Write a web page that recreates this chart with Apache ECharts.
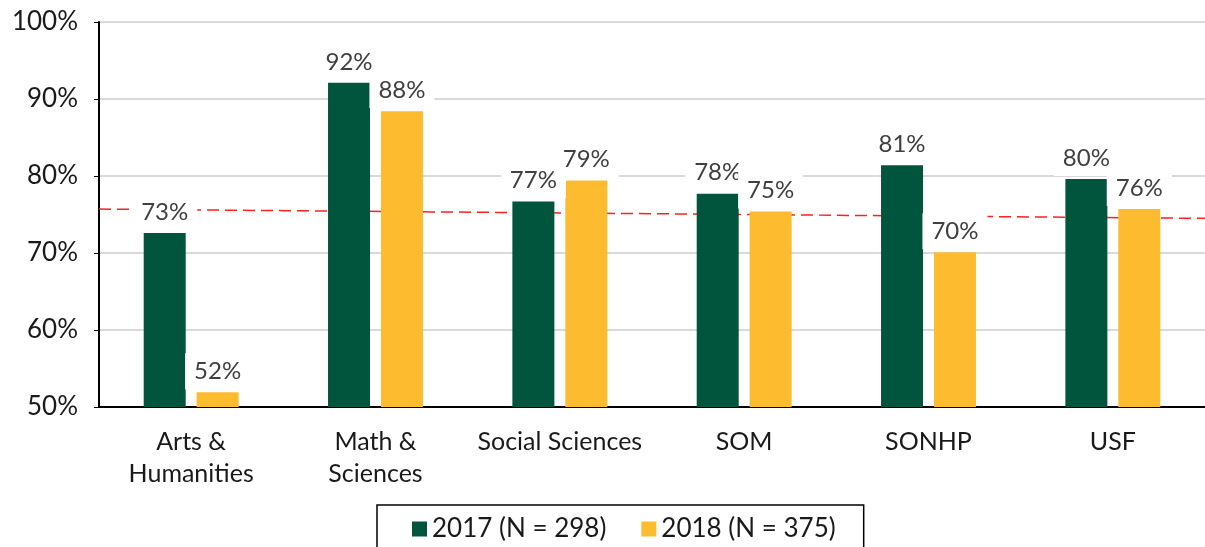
<!DOCTYPE html>
<html>
<head>
<meta charset="utf-8">
<script src="https://cdn.jsdelivr.net/npm/echarts@6/dist/echarts.min.js"></script>
<style>
  html, body { margin: 0; padding: 0; background: #fff; }
  #chart { width: 1205px; height: 547px; }
</style>
</head>
<body>
<div id="chart"></div>
<script>
// categories along x
const categories = ["Arts &\nHumanities", "Math &\nSciences", "Social Sciences", "SOM", "SONHP", "USF"];
// percent values
const values2017 = [72.6, 92.1, 76.7, 77.7, 81.4, 79.6];
const values2018 = [51.9, 88.4, 79.4, 75.4, 70.1, 75.7];
// dashed trend line, start and end of the plot
const trendX = [0, 1];
const trendY = [75.7, 74.5];
const seriesNames = ["2017 (N = 298)", "2018 (N = 375)"];

const chart = echarts.init(document.getElementById("chart"));

const labelStyle = {
  show: true,
  position: "top",
  distance: 3,
  color: "#404040",
  fontFamily: "Lato",
  fontSize: 24,
  lineHeight: 28,
  backgroundColor: "#fff",
  padding: [4, 9],
  formatter: (p) => Math.round(p.value) + "%",
};

const options = {
  animation: false,
  textStyle: { fontFamily: "Lato" },
  grid: { left: 99, right: -4, top: 22, bottom: 140 },
  legend: {
    left: 377,
    top: 505,
    padding: [11, 28, 20, 35],
    borderColor: "#000",
    borderWidth: 1.5,
    itemGap: 35,
    itemWidth: 15,
    itemHeight: 15,
    icon: "rect",
    textStyle: { fontSize: 26, color: "#1a1a1a", fontFamily: "Lato" },
    data: seriesNames,
  },
  xAxis: [
    {
      type: "category",
      data: categories,
      axisTick: { show: false },
      axisLine: { lineStyle: { color: "#000", width: 2 } },
      axisLabel: { fontSize: 25, color: "#1a1a1a", margin: 19, lineHeight: 32, interval: 0 },
    },
    {
      type: "value",
      min: 0,
      max: 1,
      show: false,
    },
  ],
  yAxis: {
    type: "value",
    min: 50,
    max: 100,
    interval: 10,
    axisLine: { show: true, lineStyle: { color: "#000", width: 2 } },
    axisLabel: { fontSize: 26, color: "#1a1a1a", margin: 21, formatter: "{value}%" },
    splitLine: { lineStyle: { color: "#d9d9d9", width: 2 } },
  },
  series: [
    {
      type: "line",
      xAxisIndex: 1,
      z: 1,
      symbol: "none",
      silent: true,
      data: trendX.map((x, i) => [x, trendY[i]]),
      lineStyle: { color: "#ff2020", width: 1.5, type: [12, 6] },
    },
    {
      name: seriesNames[0],
      type: "bar",
      z: 3,
      data: values2017,
      barWidth: 42,
      barGap: "26%",
      itemStyle: { color: "#02553d" },
      label: labelStyle,
    },
    {
      name: seriesNames[1],
      type: "bar",
      z: 3,
      data: values2018,
      barWidth: 42,
      itemStyle: { color: "#fdbb30" },
      label: labelStyle,
    },
  ],
};

chart.setOption(options);
</script>
</body>
</html>
